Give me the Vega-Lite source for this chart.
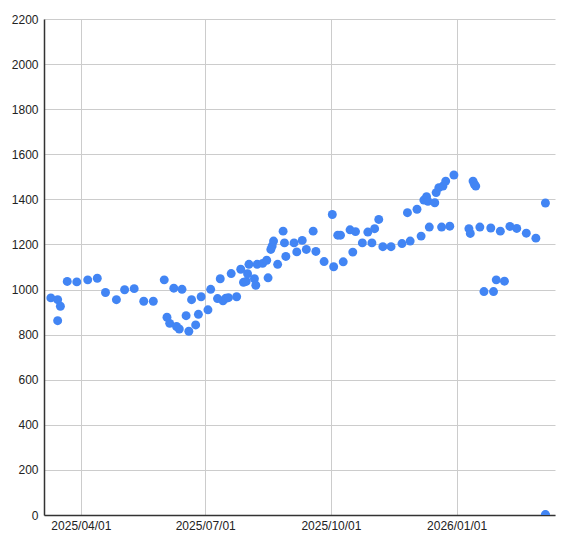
{
  "$schema": "https://vega.github.io/schema/vega-lite/v6.json",
  "width": 511,
  "height": 496,
  "autosize": {"type": "none"},
  "padding": {"left": 44, "top": 19, "right": 19, "bottom": 31},
  "background": "white",
  "config": {"view": {"stroke": null}},
  "data": {"values": [
    {"date": "2025-03-10", "value": 963},
    {"date": "2025-03-15", "value": 955},
    {"date": "2025-03-17", "value": 926},
    {"date": "2025-03-15", "value": 862},
    {"date": "2025-03-22", "value": 1036},
    {"date": "2025-03-29", "value": 1034},
    {"date": "2025-04-06", "value": 1043},
    {"date": "2025-04-13", "value": 1050},
    {"date": "2025-04-19", "value": 987},
    {"date": "2025-04-27", "value": 955},
    {"date": "2025-05-03", "value": 999},
    {"date": "2025-05-10", "value": 1004},
    {"date": "2025-05-17", "value": 948},
    {"date": "2025-05-24", "value": 948},
    {"date": "2025-06-01", "value": 1043},
    {"date": "2025-06-03", "value": 877},
    {"date": "2025-06-05", "value": 850},
    {"date": "2025-06-08", "value": 1006},
    {"date": "2025-06-10", "value": 836},
    {"date": "2025-06-12", "value": 825},
    {"date": "2025-06-14", "value": 1001},
    {"date": "2025-06-17", "value": 884},
    {"date": "2025-06-19", "value": 815},
    {"date": "2025-06-21", "value": 955},
    {"date": "2025-06-24", "value": 843},
    {"date": "2025-06-26", "value": 890},
    {"date": "2025-06-28", "value": 968},
    {"date": "2025-07-03", "value": 910},
    {"date": "2025-07-05", "value": 1001},
    {"date": "2025-07-10", "value": 960},
    {"date": "2025-07-12", "value": 1048},
    {"date": "2025-07-14", "value": 950},
    {"date": "2025-07-16", "value": 961},
    {"date": "2025-07-18", "value": 964},
    {"date": "2025-07-20", "value": 1071},
    {"date": "2025-07-24", "value": 968},
    {"date": "2025-07-27", "value": 1090},
    {"date": "2025-07-29", "value": 1032},
    {"date": "2025-07-31", "value": 1036},
    {"date": "2025-08-01", "value": 1070},
    {"date": "2025-08-02", "value": 1112},
    {"date": "2025-08-06", "value": 1048},
    {"date": "2025-08-07", "value": 1019},
    {"date": "2025-08-08", "value": 1112},
    {"date": "2025-08-12", "value": 1116},
    {"date": "2025-08-15", "value": 1130},
    {"date": "2025-08-16", "value": 1052},
    {"date": "2025-08-18", "value": 1178},
    {"date": "2025-08-19", "value": 1193},
    {"date": "2025-08-20", "value": 1215},
    {"date": "2025-08-23", "value": 1112},
    {"date": "2025-08-27", "value": 1259},
    {"date": "2025-08-28", "value": 1207},
    {"date": "2025-08-29", "value": 1147},
    {"date": "2025-09-04", "value": 1207},
    {"date": "2025-09-06", "value": 1167},
    {"date": "2025-09-10", "value": 1218},
    {"date": "2025-09-13", "value": 1178},
    {"date": "2025-09-18", "value": 1259},
    {"date": "2025-09-20", "value": 1169},
    {"date": "2025-09-26", "value": 1124},
    {"date": "2025-10-02", "value": 1333},
    {"date": "2025-10-03", "value": 1101},
    {"date": "2025-10-06", "value": 1241},
    {"date": "2025-10-08", "value": 1241},
    {"date": "2025-10-10", "value": 1123},
    {"date": "2025-10-15", "value": 1265},
    {"date": "2025-10-17", "value": 1166},
    {"date": "2025-10-19", "value": 1257},
    {"date": "2025-10-24", "value": 1207},
    {"date": "2025-10-28", "value": 1255},
    {"date": "2025-10-31", "value": 1207},
    {"date": "2025-11-02", "value": 1270},
    {"date": "2025-11-05", "value": 1311},
    {"date": "2025-11-08", "value": 1190},
    {"date": "2025-11-14", "value": 1190},
    {"date": "2025-11-22", "value": 1204},
    {"date": "2025-11-26", "value": 1341},
    {"date": "2025-11-28", "value": 1215},
    {"date": "2025-12-03", "value": 1356},
    {"date": "2025-12-06", "value": 1237},
    {"date": "2025-12-08", "value": 1397},
    {"date": "2025-12-10", "value": 1412},
    {"date": "2025-12-11", "value": 1391},
    {"date": "2025-12-12", "value": 1277},
    {"date": "2025-12-16", "value": 1385},
    {"date": "2025-12-17", "value": 1430},
    {"date": "2025-12-19", "value": 1452},
    {"date": "2025-12-21", "value": 1277},
    {"date": "2025-12-22", "value": 1459},
    {"date": "2025-12-24", "value": 1481},
    {"date": "2025-12-27", "value": 1281},
    {"date": "2025-12-30", "value": 1508},
    {"date": "2026-01-10", "value": 1270},
    {"date": "2026-01-11", "value": 1249},
    {"date": "2026-01-13", "value": 1481},
    {"date": "2026-01-14", "value": 1467},
    {"date": "2026-01-15", "value": 1459},
    {"date": "2026-01-18", "value": 1277},
    {"date": "2026-01-21", "value": 991},
    {"date": "2026-01-26", "value": 1273},
    {"date": "2026-01-28", "value": 991},
    {"date": "2026-01-30", "value": 1043},
    {"date": "2026-02-02", "value": 1259},
    {"date": "2026-02-05", "value": 1037},
    {"date": "2026-02-09", "value": 1280},
    {"date": "2026-02-14", "value": 1271},
    {"date": "2026-02-21", "value": 1250},
    {"date": "2026-02-28", "value": 1228},
    {"date": "2026-03-07", "value": 1384},
    {"date": "2026-03-07", "value": 0},
    {"date": "2026-03-07", "value": 2}
  ]},
  "mark": {"type": "circle", "size": 80, "color": "#4285F4", "opacity": 1, "clip": true},
  "encoding": {
    "x": {
      "field": "date", "type": "temporal",
      "scale": {"type": "utc", "domain": ["2025-03-05", "2026-03-14"], "nice": false},
      "axis": {
        "title": null,
        "labelExpr": "utcFormat(datum.value, '%Y/%m/%d')",
        "tickCount": {"interval": "month", "step": 3},
        "ticks": false, "labelPadding": 5, "labelFont": "Liberation Sans", "labelFontSize": 12,
        "labelColor": "#222", "domainColor": "#333", "domainWidth": 1.5,
        "gridColor": "#cccccc", "grid": true, "labelOverlap": false, "labelFlush": false
      }
    },
    "y": {
      "field": "value", "type": "quantitative",
      "scale": {"domain": [0, 2200], "nice": false, "zero": true},
      "axis": {
        "title": null, "format": "d", "values": [0, 200, 400, 600, 800, 1000, 1200, 1400, 1600, 1800, 2000, 2200],
        "ticks": false, "labelPadding": 6, "labelFont": "Liberation Sans", "labelFontSize": 12,
        "labelColor": "#222", "domainColor": "#333", "domainWidth": 1.5,
        "gridColor": "#cccccc", "grid": true
      }
    }
  }
}
